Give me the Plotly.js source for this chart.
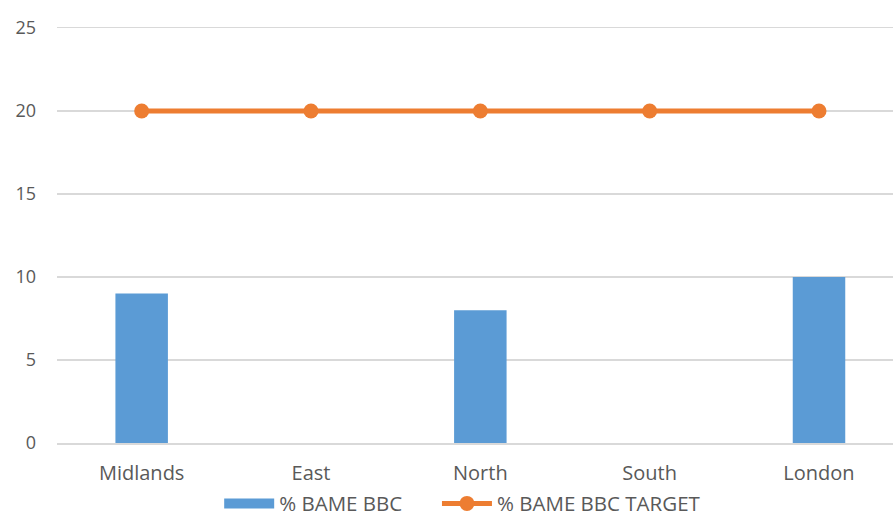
<!DOCTYPE html>
<html>
<head>
<meta charset="utf-8">
<script src="https://cdn.plot.ly/plotly-3.0.1.min.js"></script>
<style>
  html, body { margin: 0; padding: 0; background: #ffffff; }
  #chart { width: 893px; height: 516px; }
</style>
</head>
<body>
<div id="chart"></div>
<script>
// Regions and their BAME share (%) at the BBC, with the 20% target
const regions = ["Midlands", "East", "North", "South", "London"];
const bameShare = [9, null, 8, null, 10];
const bameTarget = [20, 20, 20, 20, 20];
const yTicks = [0, 5, 10, 15, 20, 25];

const fontFamily = "Open Sans, Noto Sans, sans-serif";
const textColor = "#595959";
const gridColor = "#D9D9D9";
const barColor = "#5B9BD5";
const targetColor = "#ED7D31";

const traces = [
  {
    type: "bar",
    name: "% BAME BBC",
    legendgroup: "share",
    showlegend: false,
    x: regions,
    y: bameShare,
    width: 0.31,
    marker: { color: barColor },
    hoverinfo: "x+y"
  },
  // legend entry for the bars, drawn as a wide flat swatch
  {
    type: "scatter",
    mode: "lines",
    name: "% BAME BBC",
    legendgroup: "share",
    legend: "legend",
    x: [null],
    y: [null],
    line: { color: barColor, width: 10 },
    hoverinfo: "skip"
  },
  {
    type: "scatter",
    mode: "lines+markers",
    name: "% BAME BBC TARGET",
    legend: "legend2",
    x: regions,
    y: bameTarget,
    line: { color: targetColor, width: 5 },
    marker: { color: targetColor, size: 15 },
    cliponaxis: false
  }
];

const legendStyle = {
  orientation: "h",
  xanchor: "left",
  y: -0.146,
  yanchor: "middle",
  font: { family: fontFamily, size: 20.5, color: textColor },
  itemwidth: 50,
  bgcolor: "rgba(0,0,0,0)"
};

const layout = {
  width: 893,
  height: 516,
  margin: { l: 57, r: 0, t: 28, b: 73, autoexpand: false },
  paper_bgcolor: "#ffffff",
  plot_bgcolor: "#ffffff",
  showlegend: true,
  legend: Object.assign({}, legendStyle, { x: 0.194 }),
  legend2: Object.assign({}, legendStyle, { x: 0.4545 }),
  xaxis: {
    type: "category",
    range: [-0.5, 4.437],
    showgrid: false,
    zeroline: false,
    showline: true,
    mirror: true,
    linecolor: gridColor,
    linewidth: 1.5,
    ticks: "",
    tickfont: { family: fontFamily, size: 20, color: textColor },
    ticklabelstandoff: 11
  },
  yaxis: {
    range: [0, 25],
    tickvals: yTicks,
    showgrid: true,
    gridcolor: gridColor,
    gridwidth: 1.5,
    zeroline: false,
    showline: false,
    ticks: "",
    tickfont: { family: fontFamily, size: 18, color: textColor },
    ticklabelstandoff: 20
  }
};

Plotly.newPlot("chart", traces, layout, { displayModeBar: false, staticPlot: true });
</script>
</body>
</html>
